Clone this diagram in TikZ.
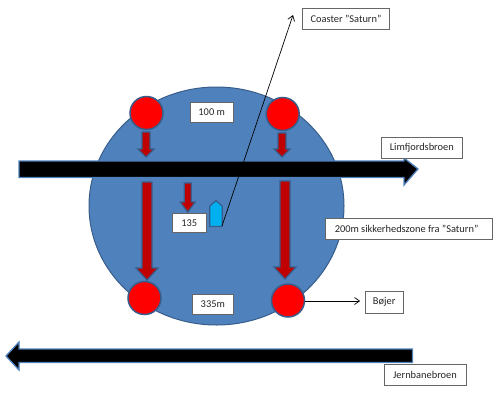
\documentclass[tikz,border=0pt]{standalone}
\usepackage{fontspec}
\setmainfont{Carlito}
\usetikzlibrary{arrows.meta}
\definecolor{zone}{HTML}{4F81BD}
\definecolor{edgeblue}{HTML}{385D8A}
\definecolor{darkred}{HTML}{C00000}
\definecolor{boatblue}{HTML}{00B0F0}
\tikzset{
  zonecircle/.style={fill=zone,draw=edgeblue,line width=1pt},
  buoy/.style={circle,fill=red,draw=edgeblue,line width=1.5pt,minimum size=33pt,inner sep=0pt},
  redarrow/.style={fill=darkred,draw=edgeblue,line width=1.2pt,line join=miter},
  bridge/.style={fill=black,draw=zone,line width=1.3pt,line join=miter},
  boat/.style={fill=boatblue,draw=edgeblue,line width=1.2pt,line join=round},
  labelbox/.style={draw=black!60,fill=white,line width=0.7pt,inner sep=0pt,font=\fontsize{10.4}{12}\selectfont,text=black!85},
  pointer/.style={black,line width=0.7pt,-{Straight Barb[length=5pt,width=7pt]}}
}
\newcommand{\downarrowshape}[6]{% x, ytop, yneck, ytip, half shaft, half head
  \path[redarrow] ({#1-#5},#2) -- ({#1+#5},#2) -- ({#1+#5},#3) -- ({#1+#6},#3) -- (#1,#4) -- ({#1-#6},#3) -- ({#1-#5},#3) -- cycle;}
\begin{document}
\begin{tikzpicture}[x=1pt,y=-1pt]
\useasboundingbox (0,0) rectangle (500,402);
\path[zonecircle] (216.5,206) ellipse [x radius=127.5,y radius=119];
% top bridge
\path[bridge] (19,161) -- (404,161) -- (404,158) -- (418,169) -- (404,185) -- (404,177.5) -- (19,177.5) -- cycle;
% bottom bridge
\path[bridge] (412.5,349) -- (19,349) -- (19,342) -- (6,356) -- (19,370) -- (19,362.5) -- (412.5,362.5) -- cycle;
% red arrows
\downarrowshape{146}{132}{149}{157}{4}{8}
\downarrowshape{282}{133}{149}{157}{4}{8}
\downarrowshape{147}{182}{268}{280}{5}{11}
\downarrowshape{285}{181}{267}{279}{5}{11}
\downarrowshape{187.7}{183}{202}{212}{3.5}{7.5}
% buoys
\node[buoy] (tl) at (146.5,113) {};
\node[buoy] (tr) at (282.7,114) {};
\node[buoy] (bl) at (144.5,298) {};
\node[buoy] (br) at (288,300.5) {};
% boat
\path[boat] (209.8,226.5) -- (209.8,206) -- (216,200.5) -- (222.2,206) -- (222.2,226.5) -- cycle;
\coordinate (bow) at (222,226);
% labels
\node[labelbox,minimum width=43.5pt,minimum height=19.5pt] (m100) at (211.7,112.3) {100 m};
\node[labelbox,minimum width=33.5pt,minimum height=18.5pt] (m135) at (189.2,222.8) {135};
\node[labelbox,minimum width=40.5pt,minimum height=20.5pt] (m335) at (212.8,304.5) {335m};
\node[labelbox,minimum width=87.5pt,minimum height=21.5pt] (coaster) at (346,19) {Coaster ”Saturn”};
\node[labelbox,minimum width=81.5pt,minimum height=21.5pt] (limf) at (421.8,148) {Limfjordsbroen};
\node[labelbox,minimum width=167.5pt,minimum height=21pt] (zonelabel) at (408.8,229) {200m sikkerhedszone fra ”Saturn”\hspace*{4.5pt}};
\node[labelbox,minimum width=37.5pt,minimum height=22.5pt] (bojer) at (384.2,302.2) {Bøjer};
\node[labelbox,minimum width=82pt,minimum height=21.5pt] (jern) at (425,375) {Jernbanebroen};
% pointers
\coordinate (tip) at (293,15);
\draw[pointer] (bow) -- (tip);
\draw[pointer,shorten >=5pt] (br.east |- 0,301) -- (bojer.west |- 0,301);
\end{tikzpicture}
\end{document}
